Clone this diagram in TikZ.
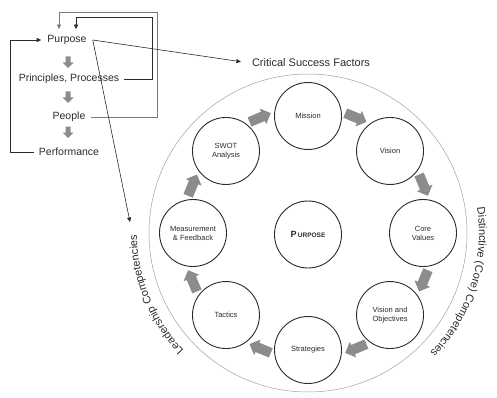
\documentclass[tikz,border=0pt]{standalone}
\usepackage{fontspec}
\setmainfont{Liberation Sans}
\usetikzlibrary{arrows.meta,decorations.text}
\definecolor{txt}{HTML}{2B2B2B}
\definecolor{blk}{HTML}{2A2A2A}
\definecolor{arrowgray}{HTML}{8C8C8C}
\definecolor{rimgray}{HTML}{A0A0A0}
\definecolor{loopgray}{HTML}{7A7A7A}

\begin{document}
\begin{tikzpicture}[x=1pt,y=1pt,
  lbl/.style={font=\fontsize{10.5}{12}\selectfont, text=txt, inner sep=5pt},
  stage/.style={circle, draw=blk, line width=0.9pt, minimum size=67pt, inner sep=0pt,
    align=center, font=\fontsize{7.5}{9}\selectfont, text=txt},
  wire/.style={draw=blk, line width=0.6pt},
  tip/.style={-{Triangle[length=4.5pt,width=4pt]}},
  blockarrow/.pic={\fill[arrowgray] (-11.5,-5) -- (3,-5) -- (3,-8.5) -- (11.5,0)
    -- (3,8.5) -- (3,5) -- (-11.5,5) -- cycle;},
  downarrow/.pic={\fill[arrowgray] (-2.5,6) -- (-2.5,0) -- (-5.5,0) -- (0,-5.5)
    -- (5.5,0) -- (2.5,0) -- (2.5,6) -- cycle;}
]
\useasboundingbox (0,0) rectangle (497,397);
\coordinate (C) at (308,164);

% outer ring
\draw[rimgray, line width=0.5pt] (C) circle[radius=159];

% the four P's
\node[lbl, inner sep=6pt] (purpose) at (67,357) {Purpose};
\node[lbl] (principles) at (69,318) {Principles, Processes};
\node[lbl] (people) at (69,280) {People};
\node[lbl] (performance) at (69,245) {Performance};

\pic at (68,334.5) {downarrow};
\pic at (68,299.5) {downarrow};
\pic at (68,264.5) {downarrow};

% feedback loops
\coordinate (leftrail) at (10,0);
\draw[wire, tip] (performance.west) -- (performance.west -| leftrail) |- (purpose.west);

\coordinate (railA) at (152,380);
\coordinate (dropA) at (76,0);
\draw[wire, tip] (principles.east) -- (principles.east -| railA) -- (railA)
  -- (railA -| dropA) -- (purpose.north -| dropA);

\coordinate (railB) at (157,385);
\coordinate (dropB) at (59,0);
\draw[wire, draw=loopgray, tip] (people.east) -- (people.east -| railB) -- (railB)
  -- (railB -| dropB) -- (purpose.north -| dropB);

% links out of Purpose
\node[font=\fontsize{11}{13}\selectfont, text=txt, inner sep=2pt] (csf) at (311,334)
  {Critical Success Factors};
\draw[wire, tip, shorten >=9pt] (purpose.east) -- (csf.west);
\coordinate (lead) at (130,175);
\draw[wire, tip] (purpose.east) -- (lead);

% cycle of stages
\begin{scope}[shift={(C)}]
  \node[stage] (mission)  at (90:117)  {Mission};
  \node[stage] (vision)   at (45:116)  {Vision};
  \node[stage] (core)     at (0:115)   {Core\\Values};
  \node[stage] (visobj)   at (-45:116) {Vision and\\Objectives};
  \node[stage] (strat)    at (-90:117) {Strategies};
  \node[stage] (tactics)  at (-135:116) {Tactics};
  \node[stage] (measure)  at (180:115) {Measurement\\\& Feedback};
  \node[stage] (swot)     at (135:116) {SWOT\\Analysis};
  \node[stage] (core0)    at (0,-1.5)
    {{\fontsize{9}{10}\selectfont\bfseries P}\,{\fontsize{6.5}{8}\selectfont\bfseries URPOSE}};

  \foreach \a in {112.5,67.5,22.5,-22.5,-67.5,-112.5,-157.5,157.5}
    \pic[rotate=\a-90] at (\a:125) {blockarrow};

  \path[decorate, decoration={text along path, text align=center,
      text={|\fontsize{11}{13}\selectfont\color{txt}|Distinctive (Core) Competencies}}]
    (32:171) arc[start angle=32, end angle=-68, radius=171];
  \path[decorate, decoration={text along path, text align=center,
      text={|\fontsize{11}{13}\selectfont\color{txt}|Leadership Competencies}}]
    (-108:171) arc[start angle=-108, end angle=-208, radius=171];
\end{scope}
\end{tikzpicture}
\end{document}
